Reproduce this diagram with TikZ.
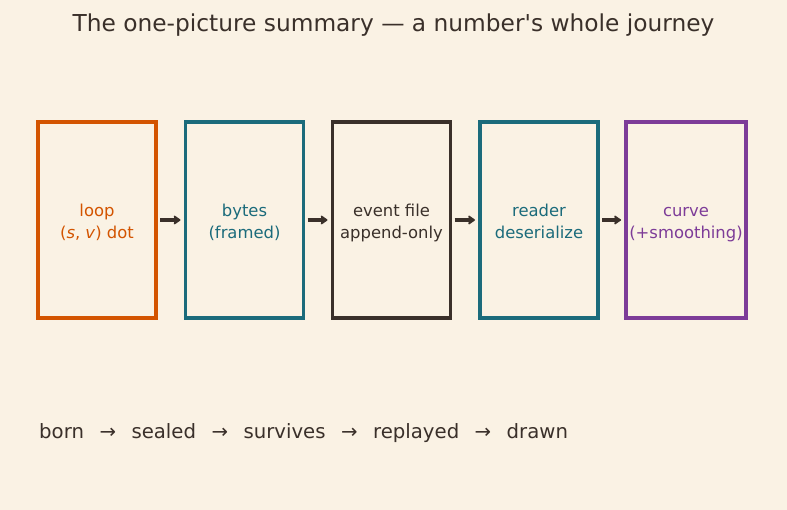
\documentclass[tikz,border=0pt]{standalone}
\usepackage{fontspec}
\setmainfont{DejaVu Sans}
\usetikzlibrary{arrows.meta}

\definecolor{paper}{HTML}{FAF2E4}
\definecolor{ink}{HTML}{3A302A}
\definecolor{rust}{HTML}{D35400}
\definecolor{teal}{HTML}{1B6B7B}
\definecolor{plum}{HTML}{7D3C98}

% two centred lines, set a little below the middle of the box
\newcommand{\stagetext}[2]{\raisebox{-3.5pt}[\height][\depth]{%
  \begin{tabular}{@{}c@{}}#1\\#2\end{tabular}}}

\tikzset{
  stage/.style={draw=#1, text=#1, line width=3.5pt, outer sep=0pt,
    minimum width=118pt, minimum height=196pt,
    font=\fontsize{16.4}{22}\selectfont},
  flow/.style={draw=ink, line width=3.6pt,
    -{Stealth[length=8pt,width=11pt,inset=2pt,round]},
    shorten <=4pt, shorten >=5pt}
}

\begin{document}
\begin{tikzpicture}[x=1pt, y=-1pt]
  % canvas
  \fill[paper] (0,0) rectangle (787,510);
  \useasboundingbox (0,0) rectangle (787,510);

  % title
  \node[text=ink, font=\fontsize{23.3}{26}\selectfont] (title) at (393.5,25)
    {The one-picture summary --- a number\textquotesingle s whole journey};

  % the five stages
  \node[stage=rust] (loop)   at (97,220)    {\stagetext{loop}{(\textit{s}, \textit{v}) dot}};
  \node[stage=teal] (bytes)  at (244.5,220) {\stagetext{bytes}{(framed)}};
  \node[stage=ink]  (event)  at (391.5,220) {\stagetext{event file}{append-only}};
  \node[stage=teal] (reader) at (539,220)   {\stagetext{reader}{deserialize}};
  \node[stage=plum] (curve)  at (686,220)   {\stagetext{curve}{(+smoothing)}};

  % arrows between stages
  \draw[flow] (loop) -- (bytes);
  \draw[flow] (bytes) -- (event);
  \draw[flow] (event) -- (reader);
  \draw[flow] (reader) -- (curve);

  % the journey in words
  \node[anchor=west, text=ink, font=\fontsize{19.7}{22}\selectfont, inner sep=0pt] (words) at (39,433)
    {born\hspace{15.5pt}→\hspace{15.5pt}sealed\hspace{15.5pt}→\hspace{15.5pt}survives\hspace{15.5pt}→\hspace{15.5pt}replayed\hspace{15.5pt}→\hspace{15.5pt}drawn};
\end{tikzpicture}
\end{document}
